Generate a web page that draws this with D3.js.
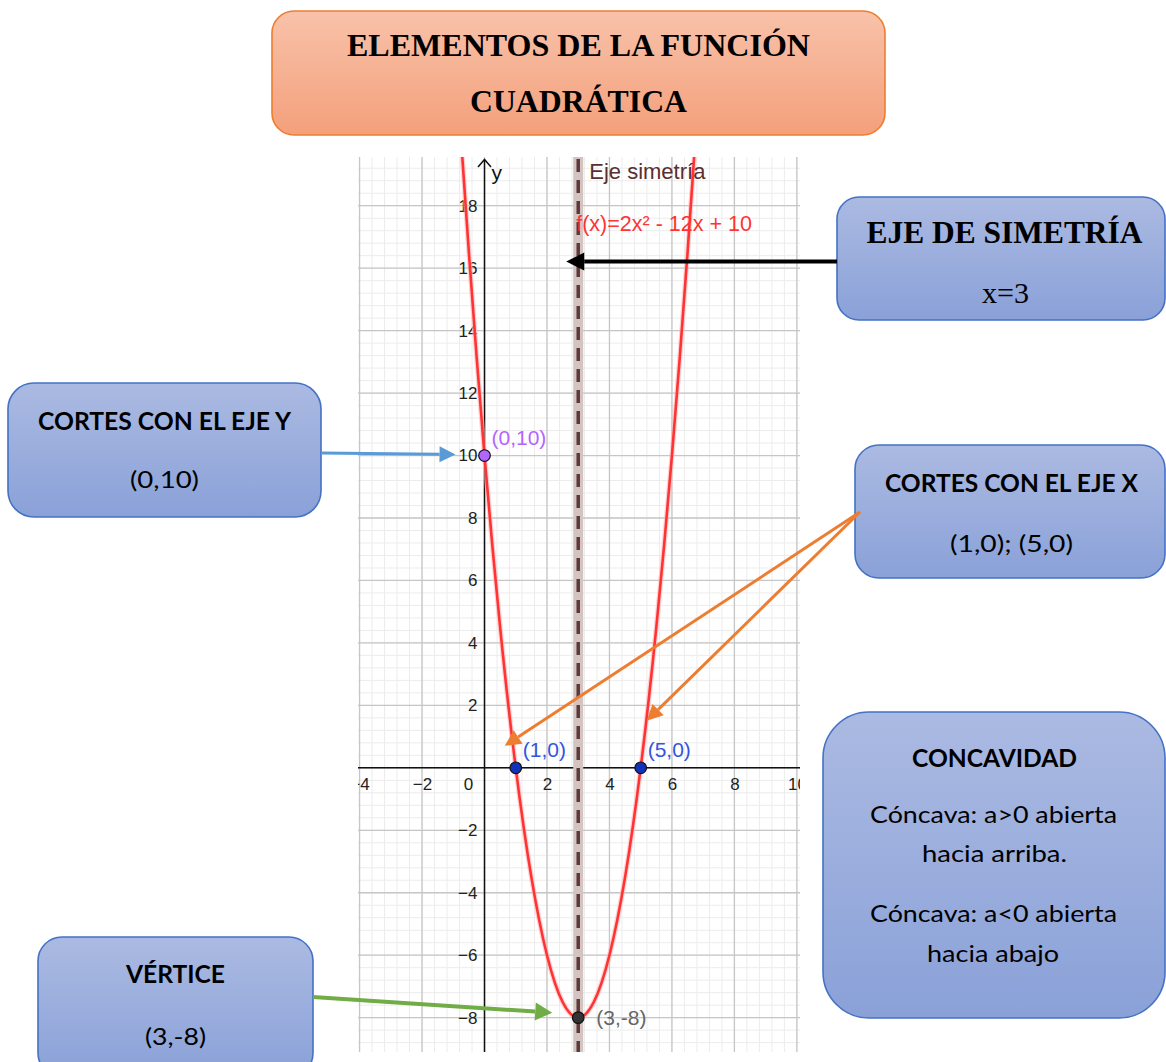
<!DOCTYPE html>
<html><head><meta charset="utf-8">
<script src="https://cdn.jsdelivr.net/npm/d3@7"></script>
<style>body{margin:0;background:#fff}svg{display:block}</style>
</head><body>
<script>
// ---------- data ----------
const titleLines = ["ELEMENTOS DE LA FUNCIÓN", "CUADRÁTICA"];
const symmetryBoxLines = ["EJE DE SIMETRÍA", "x=3"];
const yInterceptBoxLines = ["CORTES CON EL EJE Y", "(0,10)"];
const xInterceptBoxLines = ["CORTES CON EL EJE X", "(1,0); (5,0)"];
const concavityBoxLines = ["CONCAVIDAD", "Cóncava: a>0 abierta", "hacia arriba.", "Cóncava: a<0 abierta", "hacia abajo"];
const vertexBoxLines = ["VÉRTICE", "(3,-8)"];

const xTickValues = [-4, -2, 2, 4, 6, 8, 10];
const yTickValues = [-8, -6, -4, -2, 2, 4, 6, 8, 10, 12, 14, 16, 18];

// points read along the parabola
const curveX = [-0.75, -0.5, -0.25, 0, 0.25, 0.5, 1, 1.5, 2, 2.5, 3, 3.5, 4, 4.5, 5, 5.5, 5.75, 6, 6.25, 6.5, 6.75];
const curveY = [20.125, 16.5, 13.125, 10, 7.125, 4.5, 0, -3.5, -6, -7.5, -8, -7.5, -6, -3.5, 0, 4.5, 7.125, 10, 13.125, 16.5, 20.125];

const pointLabels = ["(0,10)", "(1,0)", "(5,0)", "(3,-8)"];
const pointX = [0, 1, 5, 3];
const pointY = [10, 0, 0, -8];
const symmetryX = 3;
const symmetryLabel = "Eje simetría";
const functionLabel = "f(x)=2x² - 12x + 10";

// ---------- setup ----------
const W = 1166, H = 1062;
const svg = d3.select("body").append("svg").attr("width", W).attr("height", H);
const defs = svg.append("defs");

function grad(id, c1, c2) {
  const g = defs.append("linearGradient").attr("id", id).attr("x1", 0).attr("y1", 0).attr("x2", 0).attr("y2", 1);
  g.append("stop").attr("offset", "0%").attr("stop-color", c1);
  g.append("stop").attr("offset", "100%").attr("stop-color", c2);
}
grad("gOrange", "#f8c2aa", "#f4a07b");
grad("gBlue", "#abbae2", "#8aa1d8");

const plotL = 358, plotR = 800, plotT = 157, plotB = 1052;
const x = d3.scaleLinear().domain([-4.05, 10.1]).range([plotL, plotR]);
const y = d3.scaleLinear().domain([-9.1, 19.56]).range([plotB, plotT]);

defs.append("clipPath").attr("id", "plotClip").append("rect")
  .attr("x", plotL).attr("y", plotT).attr("width", plotR - plotL).attr("height", plotB - plotT);

const plot = svg.append("g").attr("clip-path", "url(#plotClip)");
plot.append("rect").attr("x", plotL).attr("y", plotT).attr("width", plotR - plotL).attr("height", plotB - plotT).attr("fill", "#fff");

// minor grid
const minorX = d3.range(-22, 27).map(i => i * 0.4);
const minorY = d3.range(-24, 50).map(i => i * 0.4);
plot.append("g").selectAll("line").data(minorX).join("line")
  .attr("x1", d => x(d)).attr("x2", d => x(d)).attr("y1", plotT).attr("y2", plotB)
  .attr("stroke", "#ececec").attr("stroke-width", 1);
plot.append("g").selectAll("line").data(minorY).join("line")
  .attr("y1", d => y(d)).attr("y2", d => y(d)).attr("x1", plotL).attr("x2", plotR)
  .attr("stroke", "#ececec").attr("stroke-width", 1);
// major grid
plot.append("g").selectAll("line").data(d3.range(-4, 12, 2)).join("line")
  .attr("x1", d => x(d)).attr("x2", d => x(d)).attr("y1", plotT).attr("y2", plotB)
  .attr("stroke", "#c6c6c6").attr("stroke-width", 1.3);
plot.append("g").selectAll("line").data(d3.range(-10, 22, 2)).join("line")
  .attr("y1", d => y(d)).attr("y2", d => y(d)).attr("x1", plotL).attr("x2", plotR)
  .attr("stroke", "#c6c6c6").attr("stroke-width", 1.3);

// axes lines
plot.append("line").attr("x1", plotL).attr("x2", plotR).attr("y1", y(0)).attr("y2", y(0)).attr("stroke", "#111").attr("stroke-width", 1.5);
plot.append("line").attr("x1", x(0)).attr("x2", x(0)).attr("y1", plotT + 3).attr("y2", plotB).attr("stroke", "#111").attr("stroke-width", 1.5);
plot.append("path").attr("d", `M${x(0) - 6.5},${plotT + 10}L${x(0)},${plotT + 2.5}L${x(0) + 6.5},${plotT + 10}`)
  .attr("fill", "none").attr("stroke", "#111").attr("stroke-width", 1.5);
plot.append("text").attr("x", x(0) + 7).attr("y", 180).text("y")
  .attr("font-family", "Liberation Sans, Arial, sans-serif").attr("font-size", 21).attr("fill", "#111");

// tick labels with d3 axes
const axFont = "Liberation Sans, Arial, sans-serif";
const gx = plot.append("g").attr("transform", `translate(0,${y(0)})`)
  .call(d3.axisBottom(x).tickValues(xTickValues).tickSize(0).tickPadding(10));
const gy = plot.append("g").attr("transform", `translate(${x(0)},0)`)
  .call(d3.axisLeft(y).tickValues(yTickValues).tickSize(0).tickPadding(7));
[gx, gy].forEach(g => {
  g.select(".domain").remove();
  g.selectAll("text").attr("font-family", axFont).attr("font-size", 17).attr("fill", "#222");
});
plot.append("text").attr("x", x(0) - 16).attr("y", y(0)).attr("dy", "1.3em").text("0")
  .attr("font-family", axFont).attr("font-size", 17).attr("fill", "#222").attr("text-anchor", "middle");

// symmetry axis
plot.append("rect").attr("x", x(symmetryX) - 5).attr("y", plotT).attr("width", 10).attr("height", plotB - plotT)
  .attr("fill", "#d4c4c1");
plot.append("line").attr("x1", x(symmetryX)).attr("x2", x(symmetryX)).attr("y1", plotT + 2).attr("y2", plotB)
  .attr("stroke", "#5d3a3a").attr("stroke-width", 3.5).attr("stroke-dasharray", "13,8");

// parabola
const curvePts = curveX.map((d, i) => [d, curveY[i]]);
const line = d3.line().x(d => x(d[0])).y(d => y(d[1])).curve(d3.curveMonotoneX);
plot.append("path").datum(curvePts).attr("d", line).attr("fill", "none")
  .attr("stroke", "#ffb3b3").attr("stroke-width", 5).attr("stroke-opacity", 0.6);
plot.append("path").datum(curvePts).attr("d", line).attr("fill", "none")
  .attr("stroke", "#ff3333").attr("stroke-width", 2.6);

// labels
plot.append("text").attr("x", x(symmetryX) + 11).attr("y", 179).text(symmetryLabel)
  .attr("font-family", axFont).attr("font-size", 22).attr("fill", "#5a2f2f");
plot.append("text").attr("x", x(symmetryX) - 2).attr("y", 231).text(functionLabel)
  .attr("font-family", axFont).attr("font-size", 21.5).attr("fill", "#ff3333");

// points
const pointFill = ["#b366ff", "#1133bb", "#1133bb", "#333333"];
const labelColor = ["#b366ff", "#3355dd", "#3355dd", "#666666"];
const labelDx = [7, 7, 7, 18];
const labelDy = [-11, -11, -11, 7];
plot.selectAll("circle.pt").data(pointX).join("circle")
  .attr("cx", (d, i) => x(d)).attr("cy", (d, i) => y(pointY[i])).attr("r", 5.8)
  .attr("fill", (d, i) => pointFill[i]).attr("stroke", "#111").attr("stroke-width", 1.2);
plot.selectAll("text.pl").data(pointLabels).join("text")
  .attr("x", (d, i) => x(pointX[i]) + labelDx[i]).attr("y", (d, i) => y(pointY[i]) + labelDy[i])
  .text(d => d).attr("font-family", axFont).attr("font-size", 21).attr("fill", (d, i) => labelColor[i]);

// ---------- boxes ----------
function box(x0, y0, w, h, r, fill, stroke) {
  svg.append("rect").attr("x", x0).attr("y", y0).attr("width", w).attr("height", h)
    .attr("rx", r).attr("ry", r).attr("fill", fill).attr("stroke", stroke).attr("stroke-width", 1.6);
}
function txt(t, cx, by, size, fam, weight, len) {
  const e = svg.append("text").attr("x", cx).attr("y", by).text(t).attr("text-anchor", "middle")
    .attr("font-family", fam).attr("font-size", size).attr("font-weight", weight).attr("fill", "#000");
  if (len) e.attr("textLength", len).attr("lengthAdjust", "spacingAndGlyphs");
}
const serif = "Liberation Serif, Times New Roman, serif";
const cal = "Lato, Open Sans, sans-serif";

box(272, 11, 613, 124, 22, "url(#gOrange)", "#ed7d31");
txt(titleLines[0], 578.5, 56, 32, serif, "bold", 463);
txt(titleLines[1], 578.5, 112, 32, serif, "bold", 217);

box(837, 197, 328, 123, 22, "url(#gBlue)", "#4472c4");
txt(symmetryBoxLines[0], 1004.5, 243, 31, serif, "bold", 276);
txt(symmetryBoxLines[1], 1005.5, 303, 30, serif, "normal", 47);

box(8, 383, 313, 134, 26, "url(#gBlue)", "#4472c4");
txt(yInterceptBoxLines[0], 164.5, 430, 24, cal, "bold", 253);
txt(yInterceptBoxLines[1], 164.5, 488, 23, cal, "normal", 69);

box(855, 445, 310, 133, 24, "url(#gBlue)", "#4472c4");
txt(xInterceptBoxLines[0], 1011.5, 492, 24, cal, "bold", 253);
txt(xInterceptBoxLines[1], 1011.5, 552, 23, cal, "normal", 123);

box(823, 712, 342, 306, 46, "url(#gBlue)", "#4472c4");
txt(concavityBoxLines[0], 994.5, 767, 24, cal, "bold", 165);
txt(concavityBoxLines[1], 993.5, 823, 23, cal, "normal", 247);
txt(concavityBoxLines[2], 994.5, 862, 23, cal, "normal", 145);
txt(concavityBoxLines[3], 993.5, 922, 23, cal, "normal", 247);
txt(concavityBoxLines[4], 993, 962, 23, cal, "normal", 132);

box(38, 937, 275, 140, 24, "url(#gBlue)", "#4472c4");
txt(vertexBoxLines[0], 175.5, 983, 24, cal, "bold", 99);
txt(vertexBoxLines[1], 175.5, 1045, 23, cal, "normal", 61);

// ---------- arrows ----------
function arrow(x1, y1, x2, y2, color, w, hl, hw) {
  const a = Math.atan2(y2 - y1, x2 - x1);
  const bx = x2 - hl * Math.cos(a), by = y2 - hl * Math.sin(a);
  svg.append("line").attr("x1", x1).attr("y1", y1).attr("x2", bx).attr("y2", by)
    .attr("stroke", color).attr("stroke-width", w);
  const px = -Math.sin(a) * hw, py = Math.cos(a) * hw;
  svg.append("path").attr("d", `M${x2},${y2}L${bx + px},${by + py}L${bx - px},${by - py}Z`).attr("fill", color);
}
arrow(837, 261.5, x(symmetryX) - 12, 261.5, "#000", 4, 18, 9);
arrow(321, 453, x(pointX[0]) - 29, y(pointY[0]) - 1, "#5b9bd5", 3, 16, 8);
arrow(860, 512, x(pointX[1]) - 11, y(pointY[1]) - 22, "#ed7d31", 3, 16, 8);
arrow(860, 512, x(pointX[2]) + 6, y(pointY[2]) - 47, "#ed7d31", 3, 16, 8);
arrow(313, 997, x(pointX[3]) - 26, y(pointY[3]) - 5, "#70ad47", 4, 17, 9);
</script>
</body></html>
